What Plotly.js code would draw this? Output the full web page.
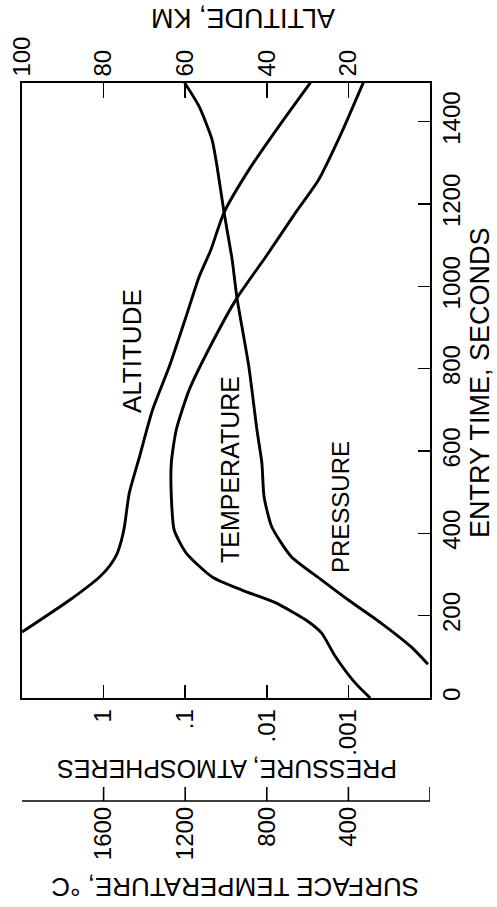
<!DOCTYPE html>
<html><head><meta charset="utf-8">
<script src="https://cdn.plot.ly/plotly-3.0.1.min.js"></script>
<style>html,body{margin:0;padding:0;background:#fff}</style>
</head><body><div id="chart" style="width:497px;height:907px"></div>
<script>
// Altitude, km vs entry time, s
const altTime = [160, 238, 294, 321, 348, 384, 416, 498, 586, 700, 805, 926, 1023, 1089, 1179, 1283, 1388, 1495];
const altKm   = [100, 88.3, 81, 78.5, 76.8, 75.6, 74.9, 73.7, 71.2, 68.0, 63.9, 59.8, 56.6, 53.7, 50.5, 44.4, 37.1, 29.3];
// Pressure, atmospheres vs entry time, s
const presTime = [82, 124, 182, 238, 287, 343, 416, 489, 571, 651, 805, 972, 1065, 1181, 1291, 1356, 1437, 1495];
const presAtm  = [1.06e-4, 1.7e-4, 3.98e-4, 1.0e-3, 2.14e-3, 5.0e-3, 8.7e-3, 0.0108, 0.0115, 0.0132, 0.0166, 0.0232, 0.0266, 0.0335, 0.0407, 0.0468, 0.0676, 0.102];
// Surface temperature, degC vs entry time, s
const tempTime = [0, 36, 100, 158, 190, 231, 262, 294, 352, 408, 489, 571, 651, 749, 863, 972, 1072, 1179, 1259, 1373, 1495];
const tempC    = [293, 366, 463, 532, 610, 756, 922, 1068, 1195, 1254, 1268, 1268, 1244, 1180, 1068, 946, 805, 659, 546, 434, 327];

const timeTicks = [0, 200, 400, 600, 800, 1000, 1200, 1400];
const pressureTickVals = [1, 0.1, 0.01, 0.001];
const pressureTickText = ['1', '.1', '.01', '.001'];
const altitudeTicks = [100, 80, 60, 40, 20];
const temperatureRange = [2000, 0];
const temperatureTickVals = [0, 400, 800, 1200, 1600];
const temperatureTickText = ['', '400', '800', '1200', '1600'];

const FONT = 'Liberation Sans, Arial, Helvetica, sans-serif';
const lineStyle = {color: '#000', width: 2.9, shape: 'spline', smoothing: 0.6};

const traces = [
  {x: altKm, y: altTime, xaxis: 'x2', yaxis: 'y', mode: 'lines', line: lineStyle, name: 'ALTITUDE'},
  {x: presAtm, y: presTime, xaxis: 'x', yaxis: 'y', mode: 'lines', line: lineStyle, name: 'PRESSURE'},
  {x: tempC, y: tempTime, xaxis: 'x3', yaxis: 'y', mode: 'lines', line: lineStyle, name: 'TEMPERATURE'}
];

const axisCommon = {
  showgrid: false, zeroline: false, showline: true, linecolor: '#000', linewidth: 1.6,
  ticks: 'inside', tickcolor: '#000', tickwidth: 1.6, tickangle: -90,
  tickfont: {family: FONT, size: 24, color: '#000'}
};

const PX = x => (x - 22) / 408;
const PY = y => (801 - y) / 718;
const TEMP_TICK_LEN = 14 / 718;

// temperature axis line and its tick marks, placed through the x3 scale
const tempAxisShapes = [
  {type: 'line', xref: 'x3', yref: 'paper', x0: temperatureRange[0], x1: temperatureRange[1], y0: 0, y1: 0,
   line: {color: '#000', width: 1.6}}
].concat(temperatureTickVals.map(v => ({
  type: 'line', xref: 'x3', yref: 'paper', x0: v, x1: v, y0: 0, y1: TEMP_TICK_LEN,
  line: {color: '#000', width: 1.6}
})));

const layout = {
  width: 497, height: 907,
  margin: {l: 22, r: 67, t: 83, b: 106, pad: 0},
  paper_bgcolor: '#fff', plot_bgcolor: '#fff',
  showlegend: false,
  font: {family: FONT, color: '#000'},
  yaxis: Object.assign({}, axisCommon, {
    domain: [0.1435, 1], range: [0, 1494], side: 'right', mirror: true,
    tickvals: timeTicks, ticklen: 12
  }),
  xaxis: Object.assign({}, axisCommon, {
    type: 'log', range: [1, -4], anchor: 'y', side: 'bottom',
    tickvals: pressureTickVals, ticktext: pressureTickText, ticklen: 13
  }),
  xaxis2: Object.assign({}, axisCommon, {
    range: [100, 0], overlaying: 'x', anchor: 'y', side: 'top',
    tickvals: altitudeTicks, ticklen: 15
  }),
  xaxis3: Object.assign({}, axisCommon, {
    range: temperatureRange, overlaying: 'x', anchor: 'free', position: 0, side: 'bottom',
    tickvals: temperatureTickVals, ticktext: temperatureTickText, ticks: '', showline: false
  }),
  shapes: tempAxisShapes,
  annotations: [
    {text: 'ALTITUDE, KM', x: PX(243), y: PY(18), textangle: 180, size: 27},
    {text: 'ENTRY TIME, SECONDS', x: PX(480), y: PY(383), textangle: -90, size: 27},
    {text: 'PRESSURE, ATMOSPHERES', x: PX(227), y: PY(769), textangle: 180, size: 25},
    {text: 'SURFACE TEMPERATURE, °C', x: PX(235), y: PY(887), textangle: 180, size: 26},
    {text: 'ALTITUDE', x: PX(132), y: PY(351), textangle: -90, size: 26},
    {text: 'TEMPERATURE', x: PX(230), y: PY(470), textangle: -90, size: 25},
    {text: 'PRESSURE', x: PX(340), y: PY(507), textangle: -90, size: 24}
  ].map(a => ({
    text: a.text, x: a.x, y: a.y, xref: 'paper', yref: 'paper',
    xanchor: 'center', yanchor: 'middle', showarrow: false, textangle: a.textangle,
    font: {family: FONT, size: a.size, color: '#000'}
  }))
};

Plotly.newPlot('chart', traces, layout, {displayModeBar: false, staticPlot: true});
</script>
</body></html>
